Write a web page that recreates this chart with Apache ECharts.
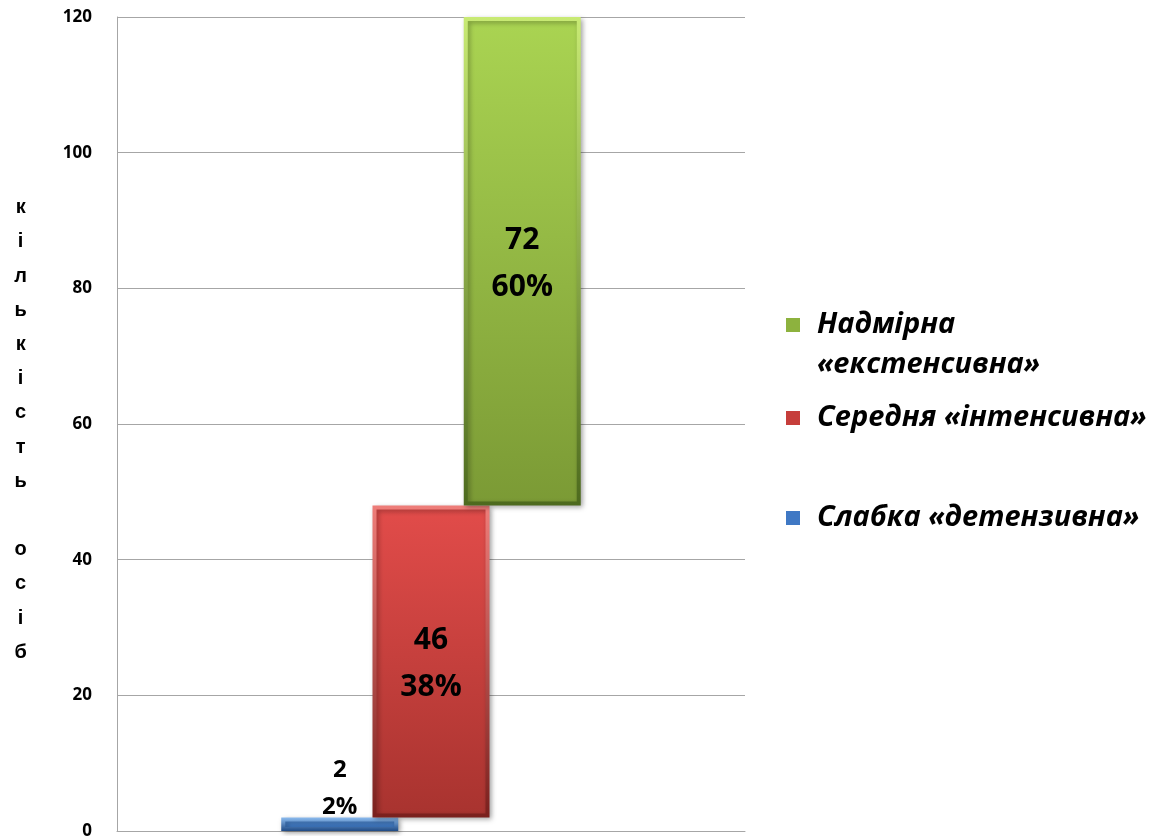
<!DOCTYPE html>
<html>
<head>
<meta charset="utf-8">
<title>Кількість осіб</title>
<script src="https://cdn.jsdelivr.net/npm/echarts@6/dist/echarts.min.js"></script>
<style>
  html, body { margin: 0; padding: 0; background: #ffffff; }
  #chart { width: 1162px; height: 836px; }
</style>
</head>
<body>
<div id="chart"></div>
<script>
// Groups and their head counts (total 120 people)
const groupNames = ['Слабка «детензивна»', 'Середня «інтенсивна»', 'Надмірна «екстенсивна»'];
// the first label gets a blank line on top so the icon sits beside its first line
const legendLabels = ['Слабка «детензивна»', 'Середня «інтенсивна»', '\nНадмірна\n«екстенсивна»'];
const counts = [2, 46, 72];
const yTicks = [0, 20, 40, 60, 80, 100, 120];
const axisTitle = 'кількість осіб';

const total = counts.reduce((a, b) => a + b, 0);
const pct = counts.map(v => Math.round(v / total * 100));
// each bar starts where the previous one ends
const bases = counts.map((_, i) => counts.slice(0, i).reduce((a, b) => a + b, 0));

const grad = (top, bottom) => new echarts.graphic.LinearGradient(0, 0, 0, 1, [
  { offset: 0, color: top }, { offset: 1, color: bottom }
]);
const palettes = [
  { face: grad('#5a95de', '#2f68b2'), edge: grad('#8cbcf0', '#1f4a85'), icon: '#3f78c4' },
  { face: grad('#e24c4a', '#a8332f'), edge: grad('#ee7d79', '#7a201d'), icon: '#c63e3b' },
  { face: grad('#aad452', '#7b9a35'), edge: grad('#c8ea74', '#4d6a1e'), icon: '#8db23e' }
];

const bigLabel = { fontFamily: 'Open Sans', fontWeight: 'bold', fontSize: 30, lineHeight: 47, color: '#000' };
const smallLabel = { fontFamily: 'Open Sans', fontWeight: 'bold', fontSize: 24, lineHeight: 37, color: '#000' };
const stackKeys = ['b', 'r', 'g'];
const series = [];
counts.forEach((v, i) => {
  if (bases[i] > 0) {
    series.push({
      type: 'bar', name: 'base' + i, stack: stackKeys[i],
      data: [bases[i]],
      itemStyle: { color: 'transparent' },
      emphasis: { disabled: true }, silent: true,
      barWidth: 117, barGap: '-22%'
    });
  }
  const small = v < 10;
  series.push({
    type: 'bar', name: groupNames[i], stack: stackKeys[i],
    data: [v],
    barWidth: 117, barGap: '-22%',
    itemStyle: {
      color: palettes[i].face,
      borderColor: palettes[i].edge,
      borderWidth: 4,
      shadowColor: 'rgba(0,0,0,0.3)', shadowBlur: 5, shadowOffsetX: 2, shadowOffsetY: 2
    },
    label: Object.assign({
      show: true,
      position: small ? 'top' : 'inside',
      distance: 0,
      offset: small ? [0, 8] : [0, 3],
      formatter: () => v + '\n' + pct[i] + '%'
    }, small ? smallLabel : bigLabel)
  });
});

const legendText = { fontFamily: 'Open Sans', fontStyle: 'italic', fontWeight: 'bold', fontSize: 29, lineHeight: 40, color: '#000' };
const legendTops = [498, 398, 265];
const legends = [2, 1, 0].map(i => ({
  data: [groupNames[i]],
  left: 786,
  top: legendTops[i],
  padding: 0,
  orient: 'vertical',
  icon: 'rect',
  itemWidth: 14, itemHeight: 14,
  selectedMode: false,
  itemStyle: { borderWidth: 0, color: palettes[i].icon },
  formatter: () => legendLabels[i],
  textStyle: Object.assign({ padding: [0, 0, 0, 12] }, legendText)
}));

// axis title written one letter per line, with a short spacer line on top
const titleLetters = axisTitle.split('').map(ch => '{t|' + (ch === ' ' ? ' ' : ch) + '}');
const titleText = ['{s| }'].concat(titleLetters).join('\n');

const chart = echarts.init(document.getElementById('chart'), null, { renderer: 'canvas' });
chart.setOption({
  animation: false,
  backgroundColor: '#ffffff',
  grid: { left: 117, right: 417, top: 17, bottom: 5, containLabel: false, outerBoundsMode: 'none' },
  legend: legends,
  xAxis: {
    type: 'category',
    data: [''],
    axisLine: { show: true, lineStyle: { color: '#a6a6a6', width: 1 } },
    axisTick: { show: false },
    axisLabel: { show: false }
  },
  yAxis: {
    type: 'value',
    min: yTicks[0], max: yTicks[yTicks.length - 1], interval: 20,
    name: titleText,
    nameLocation: 'middle',
    nameRotate: 0,
    nameGap: 90,
    nameTextStyle: {
      rich: {
        s: { fontSize: 6, lineHeight: 12 },
        t: { fontFamily: 'Liberation Sans', fontWeight: 'bold', fontSize: 20, lineHeight: 34.2, color: '#000', align: 'center' }
      }
    },
    axisLine: { show: true, lineStyle: { color: '#a6a6a6', width: 1 } },
    axisTick: { show: false },
    axisLabel: { margin: 25, fontFamily: 'Open Sans', fontWeight: 'bold', fontSize: 17, color: '#000' },
    splitLine: { show: true, lineStyle: { color: '#a6a6a6', width: 1 } }
  },
  series: series
});
</script>
</body>
</html>
